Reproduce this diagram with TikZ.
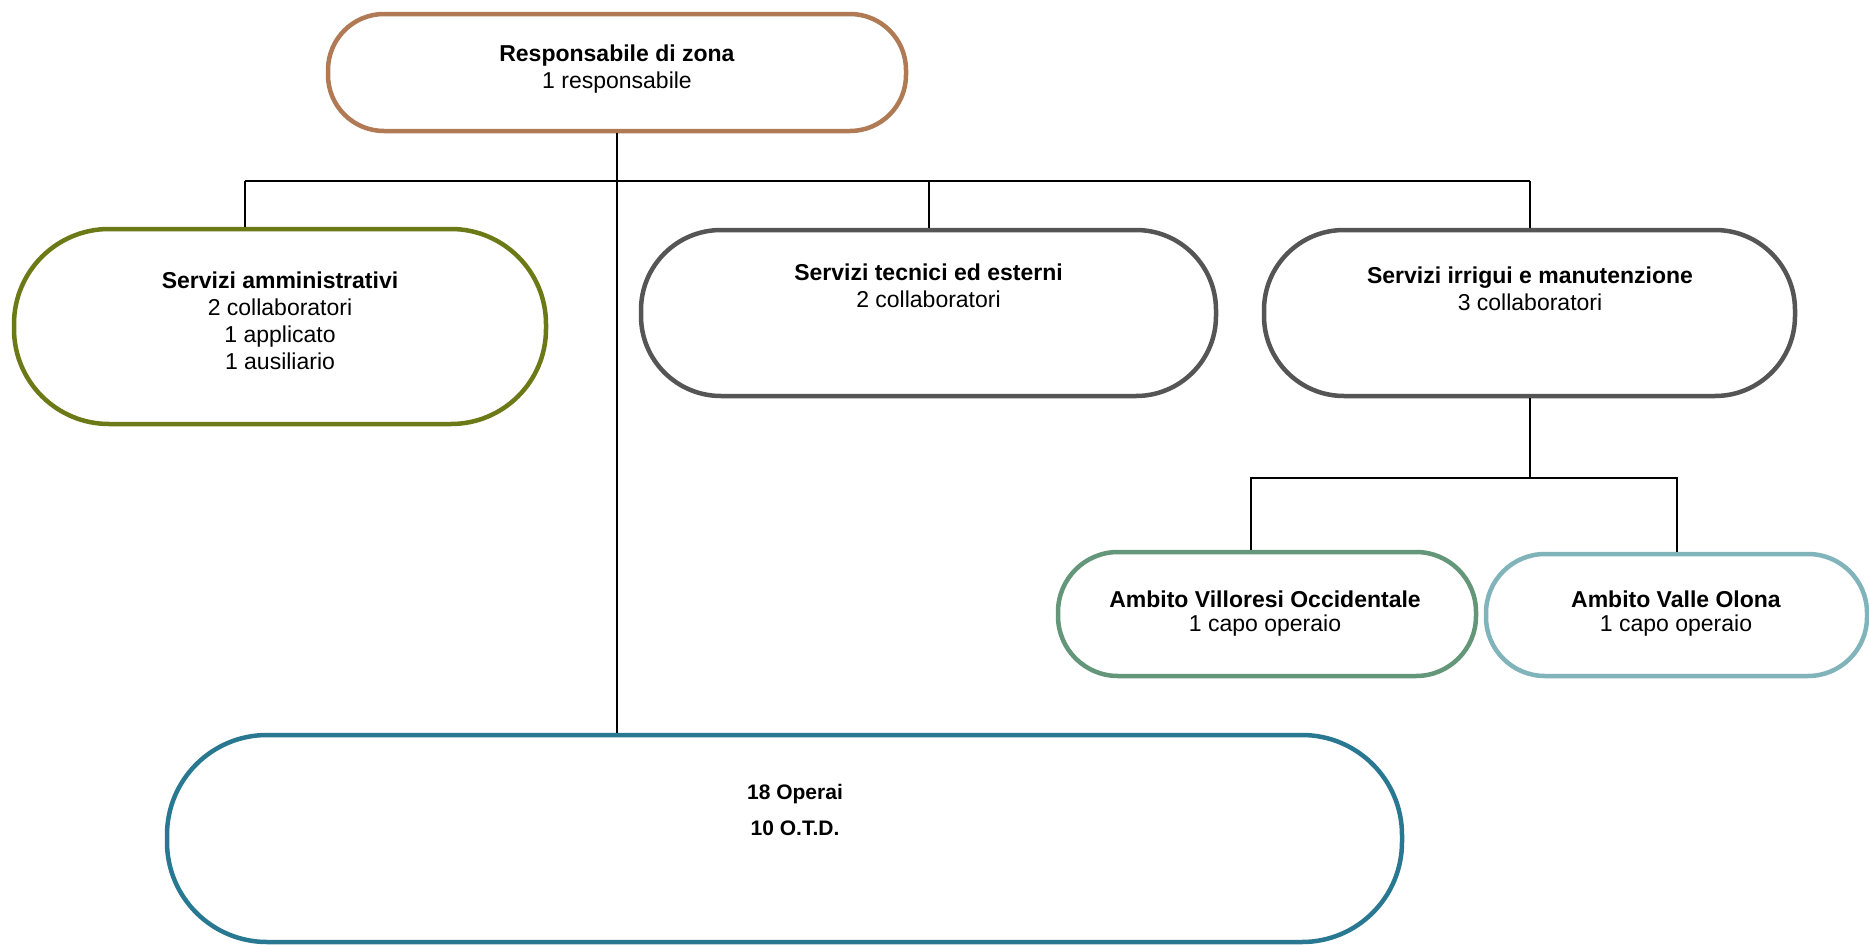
\documentclass[tikz,border=0pt]{standalone}
\usepackage{fontspec}
\setmainfont{Liberation Sans}
\usetikzlibrary{calc}
\definecolor{cTop}{RGB}{176,122,84}
\definecolor{cAmm}{RGB}{107,122,22}
\definecolor{cGray}{RGB}{85,85,85}
\definecolor{cVil}{RGB}{100,150,122}
\definecolor{cVal}{RGB}{128,180,186}
\definecolor{cOps}{RGB}{40,120,145}
\begin{document}
\begin{tikzpicture}[x=1pt,y=-1pt,
  pill/.style={draw, line width=4.5pt, fill=white, inner sep=0pt},
  txt/.style={align=center, inner sep=0pt, font=\fontsize{23}{27}\selectfont},
  conn/.style={draw=black, line width=2pt}]
\useasboundingbox (0,0) rectangle (1869,945);
\fill[white] (0,0) rectangle (1869,945);

% boxes
\node[pill, draw=cTop, minimum width=578pt, minimum height=117pt, rounded corners=56pt] (top) at (617,72.5) {};
\node[pill, draw=cAmm, minimum width=532pt, minimum height=195pt, rounded corners=95pt] (amm) at (280,326.5) {};
\node[pill, draw=cGray, minimum width=575pt, minimum height=166pt, rounded corners=80pt] (tec) at (928.5,313) {};
\node[pill, draw=cGray, minimum width=531pt, minimum height=166pt, rounded corners=80pt] (irr) at (1529.5,313) {};
\node[pill, draw=cVil, minimum width=418pt, minimum height=124pt, rounded corners=60pt] (vil) at (1267,614) {};
\node[pill, draw=cVal, minimum width=381pt, minimum height=122pt, rounded corners=59pt] (val) at (1676.5,615) {};
\node[pill, draw=cOps, minimum width=1235pt, minimum height=207pt, rounded corners=100pt] (ops) at (784.5,838.5) {};

% texts
\node[txt] (top-t) at (617,69) {\textbf{Responsabile di zona}\\1 responsabile};
\node[txt] (amm-t) at (280,321) {\textbf{Servizi amministrativi}\\2 collaboratori\\1 applicato\\1 ausiliario};
\node[txt] (tec-t) at (928.5,286) {\textbf{Servizi tecnici ed esterni}\\2 collaboratori};
\node[txt] (irr-t) at (1530,289) {\textbf{Servizi irrigui e manutenzione}\\3 collaboratori};
\node[txt, font=\fontsize{23}{24}\selectfont] (vil-t) at (1265,614) {\textbf{Ambito Villoresi Occidentale}\\1 capo operaio};
\node[txt, font=\fontsize{23}{24}\selectfont] (val-t) at (1676,614) {\textbf{Ambito Valle Olona}\\1 capo operaio};
\node[txt, font=\fontsize{21}{27}\selectfont\bfseries] (ops-t) at (795,810) {18 Operai\\[9pt]10 O.T.D.};

% connectors
\coordinate (bar) at (0,181);
\coordinate (bar2) at (0,478);
\coordinate (ammdrop) at ($(amm.north)+(-35,0)$);
\coordinate (vildrop) at ($(vil.north)+(-16,0)$);
\draw[conn] (top.south) -- (top.south |- ops.north);
\draw[conn] (ammdrop |- bar) -- (irr.north |- bar);
\draw[conn] (ammdrop) -- (ammdrop |- bar);
\draw[conn] (tec.north) -- (tec.north |- bar);
\draw[conn] (irr.north) -- (irr.north |- bar);
\draw[conn] (irr.south) -- (irr.south |- bar2);
\draw[conn] (vildrop) -- (vildrop |- bar2) -- (val.north |- bar2) -- (val.north);
\end{tikzpicture}
\end{document}
